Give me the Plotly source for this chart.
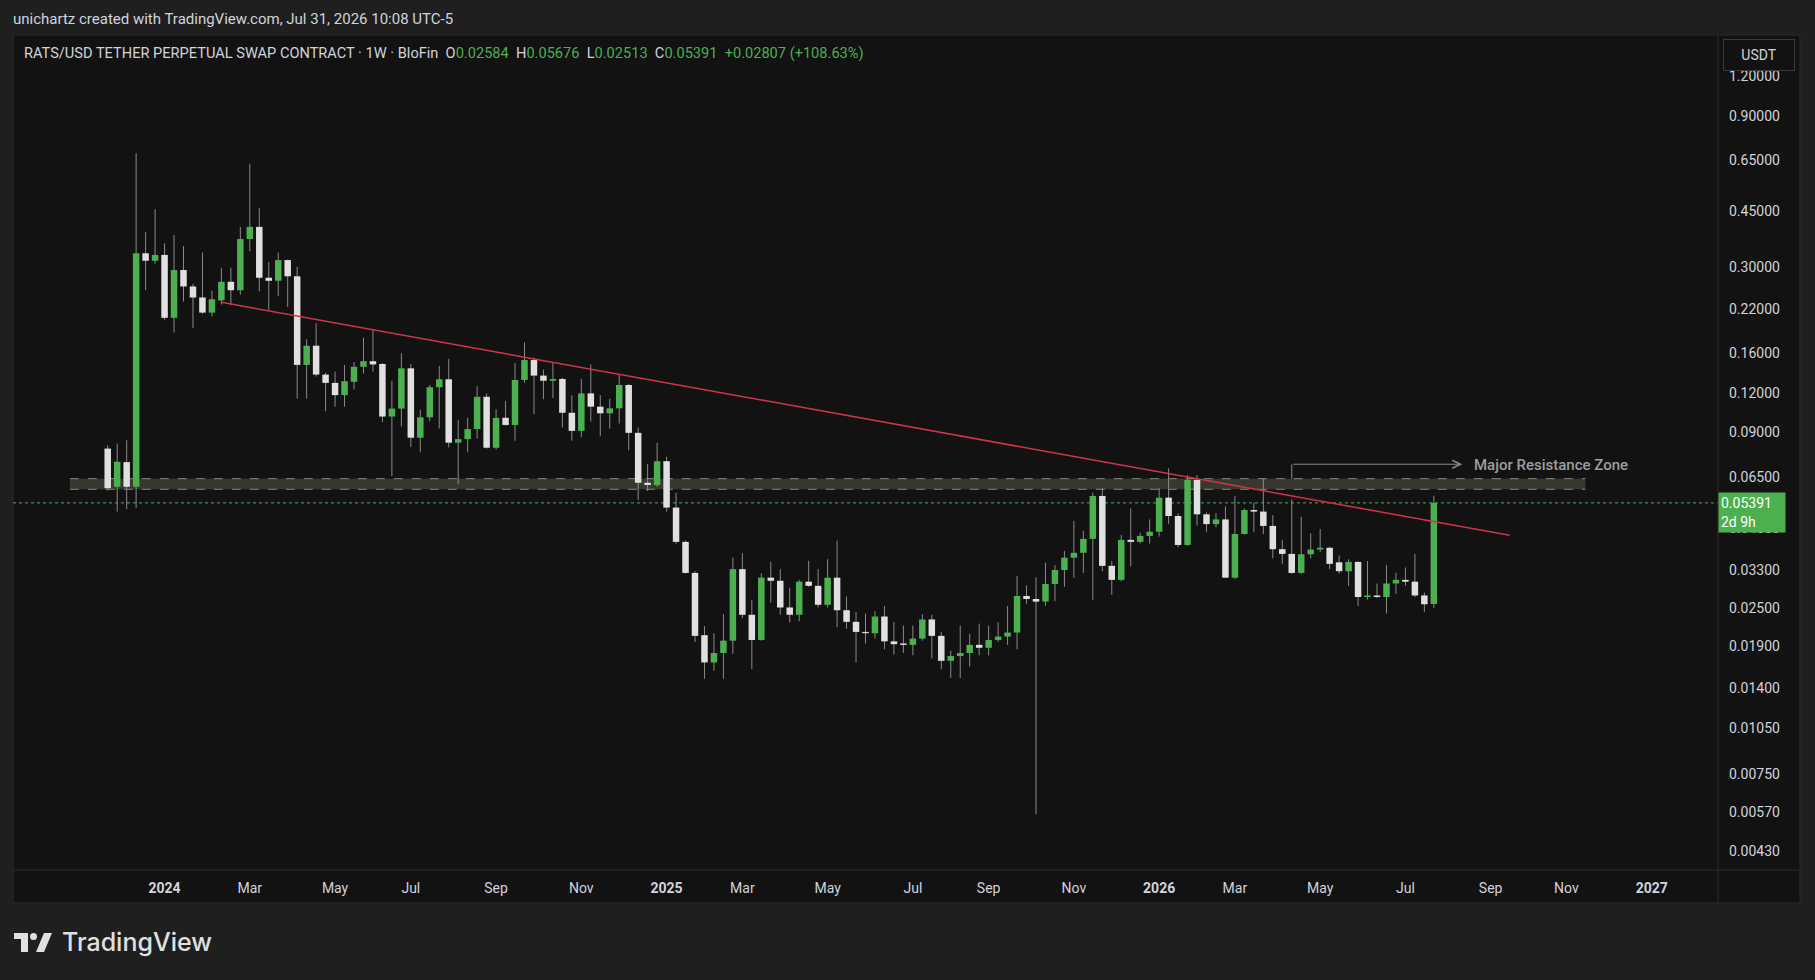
import numpy as np
import pandas as pd
import plotly.graph_objects as go

# weekly candles, RATS/USDT perpetual (BloFin)
start_week = '2023-11-20'
opens = [0.080, 0.0606, 0.0725, 0.0606, 0.331, 0.3135, 0.327, 0.207, 0.293, 0.260,
         0.240, 0.215, 0.235, 0.269, 0.253, 0.367, 0.401, 0.277, 0.271, 0.315,
         0.280, 0.147, 0.169, 0.137, 0.129, 0.118, 0.130, 0.145, 0.151, 0.148,
         0.101, 0.107, 0.1434, 0.0866, 0.1004, 0.125, 0.1324, 0.0835, 0.0857, 0.0922,
         0.1166, 0.0805, 0.1001, 0.095, 0.1317, 0.1523, 0.136, 0.131, 0.1327, 0.1038,
         0.091, 0.1195, 0.1085, 0.1034, 0.1072, 0.127, 0.0897, 0.0624, 0.0614, 0.073,
         0.0521, 0.0406, 0.0324, 0.0206, 0.0169, 0.0181, 0.0198, 0.0333, 0.0239, 0.0199,
         0.0313, 0.0306, 0.0252, 0.0239, 0.0304, 0.0295, 0.0257, 0.0313, 0.0247, 0.0227,
         0.0211, 0.0209, 0.0236, 0.0197, 0.0194, 0.0192, 0.0201, 0.0231, 0.0205, 0.0171,
         0.0177, 0.0181, 0.0192, 0.0188, 0.0199, 0.0204, 0.0210, 0.0274, 0.0268, 0.0263,
         0.0299, 0.0331, 0.0362, 0.0375, 0.0415, 0.0567, 0.0341, 0.0308, 0.0412, 0.0406,
         0.0424, 0.0437, 0.056, 0.049, 0.0397, 0.0637, 0.0496, 0.0462, 0.0478, 0.0313,
         0.043, 0.0512, 0.0506, 0.0456, 0.0385, 0.0372, 0.0324, 0.0371, 0.0384, 0.0389,
         0.035, 0.0328, 0.0351, 0.0272, 0.0275, 0.0272, 0.030, 0.0308, 0.0304, 0.0275,
         0.02584]
highs = [0.082, 0.083, 0.085, 0.685, 0.386, 0.456, 0.356, 0.378, 0.349, 0.265,
         0.333, 0.252, 0.298, 0.298, 0.401, 0.634, 0.459, 0.310, 0.333, 0.316,
         0.300, 0.177, 0.199, 0.139, 0.140, 0.147, 0.150, 0.179, 0.1905, 0.149,
         0.131, 0.160, 0.148, 0.106, 0.127, 0.146, 0.1535, 0.0984, 0.100, 0.126,
         0.1195, 0.1065, 0.113, 0.149, 0.173, 0.155, 0.142, 0.149, 0.134, 0.118,
         0.1327, 0.1476, 0.118, 0.115, 0.137, 0.128, 0.0933, 0.0714, 0.0835, 0.0754,
         0.058, 0.041, 0.0328, 0.022, 0.0209, 0.024, 0.0362, 0.0374, 0.0266, 0.0323,
         0.0351, 0.0333, 0.0291, 0.0308, 0.0354, 0.0333, 0.0358, 0.041, 0.0273, 0.0244,
         0.0241, 0.0245, 0.0255, 0.0227, 0.0221, 0.0221, 0.024, 0.0239, 0.0211, 0.0184,
         0.0221, 0.0208, 0.0224, 0.0221, 0.0226, 0.0255, 0.0317, 0.0296, 0.0314, 0.0349,
         0.0343, 0.038, 0.0473, 0.044, 0.0581, 0.060, 0.0353, 0.0427, 0.0518, 0.0434,
         0.0478, 0.060, 0.0693, 0.050, 0.066, 0.066, 0.0503, 0.050, 0.0525, 0.0567,
         0.0518, 0.054, 0.0645, 0.0493, 0.0412, 0.0553, 0.0487, 0.0432, 0.0446, 0.0392,
         0.0368, 0.0358, 0.0352, 0.0353, 0.030, 0.0343, 0.0324, 0.0337, 0.0372, 0.0281,
         0.05676]
lows = [0.059, 0.0506, 0.0515, 0.052, 0.253, 0.307, 0.204, 0.186, 0.233, 0.192,
        0.213, 0.209, 0.228, 0.227, 0.245, 0.336, 0.251, 0.219, 0.2425, 0.224,
        0.115, 0.115, 0.135, 0.105, 0.1085, 0.1085, 0.123, 0.138, 0.140, 0.097,
        0.0655, 0.094, 0.081, 0.078, 0.0975, 0.0926, 0.0807, 0.0618, 0.078, 0.086,
        0.080, 0.0795, 0.0945, 0.0847, 0.129, 0.1027, 0.1145, 0.1155, 0.0933, 0.0847,
        0.087, 0.0973, 0.0875, 0.0925, 0.096, 0.079, 0.055, 0.0588, 0.0605, 0.0506,
        0.040, 0.0322, 0.0196, 0.0150, 0.0159, 0.0150, 0.018, 0.0233, 0.0161, 0.0198,
        0.0261, 0.0239, 0.0226, 0.0228, 0.0293, 0.0252, 0.0252, 0.0218, 0.0216, 0.0169,
        0.0194, 0.0201, 0.0186, 0.0179, 0.0181, 0.0178, 0.0198, 0.0174, 0.0161, 0.0151,
        0.0151, 0.0164, 0.0178, 0.0178, 0.0196, 0.0192, 0.0186, 0.0259, 0.0056, 0.0255,
        0.0264, 0.0293, 0.0313, 0.0324, 0.0266, 0.0328, 0.0276, 0.0305, 0.034, 0.0401,
        0.0401, 0.0422, 0.0462, 0.0391, 0.0395, 0.0457, 0.0437, 0.0452, 0.0312, 0.031,
        0.0428, 0.0436, 0.0429, 0.036, 0.0346, 0.0322, 0.0322, 0.036, 0.0377, 0.0333,
        0.0322, 0.0295, 0.0255, 0.0267, 0.027, 0.0241, 0.0278, 0.0295, 0.0272, 0.0244,
        0.02513]
closes = [0.060, 0.0727, 0.0606, 0.331, 0.3135, 0.327, 0.207, 0.293, 0.260, 0.240,
          0.215, 0.237, 0.269, 0.253, 0.367, 0.401, 0.277, 0.271, 0.315, 0.280,
          0.147, 0.169, 0.137, 0.129, 0.118, 0.1306, 0.145, 0.151, 0.1475, 0.101,
          0.107, 0.1434, 0.0866, 0.1004, 0.125, 0.1324, 0.0835, 0.0857, 0.0922, 0.1166,
          0.0805, 0.100, 0.095, 0.1317, 0.1523, 0.136, 0.131, 0.1327, 0.1038, 0.091,
          0.1195, 0.1085, 0.1034, 0.1072, 0.127, 0.0897, 0.0624, 0.0614, 0.073, 0.0521,
          0.0406, 0.0324, 0.0205, 0.0169, 0.0181, 0.0198, 0.0333, 0.0239, 0.0199, 0.0313,
          0.0306, 0.0252, 0.0239, 0.0304, 0.0295, 0.0257, 0.0313, 0.0247, 0.0227, 0.0211,
          0.0209, 0.0236, 0.0197, 0.0193, 0.0192, 0.0201, 0.0231, 0.0205, 0.0171, 0.0177,
          0.0181, 0.0192, 0.0188, 0.0199, 0.0204, 0.0210, 0.0274, 0.0268, 0.0263, 0.0299,
          0.0331, 0.0362, 0.0375, 0.0415, 0.0567, 0.0341, 0.0308, 0.0412, 0.0406, 0.0424,
          0.0437, 0.056, 0.049, 0.0397, 0.0637, 0.0496, 0.0462, 0.0478, 0.0313, 0.043,
          0.0512, 0.0506, 0.0456, 0.0385, 0.0372, 0.0324, 0.0371, 0.0384, 0.0389, 0.0346,
          0.0328, 0.0351, 0.0272, 0.0275, 0.0272, 0.030, 0.0308, 0.0304, 0.0275, 0.0258,
          0.05391]

# drawings on the chart
zone_low, zone_high = 0.0595, 0.0643
zone_dates = ['2023-10-23', '2026-11-16']
trend_dates = ['2024-02-12', '2026-09-21']
trend_prices = [0.2317, 0.0426]
arrow_dates = ['2026-04-13', '2026-08-17']
arrow_price = 0.0714

price_ticks = [1.2, 0.9, 0.65, 0.45, 0.3, 0.22, 0.16, 0.12, 0.09, 0.065, 0.045,
               0.033, 0.025, 0.019, 0.014, 0.0105, 0.0075, 0.0057, 0.0043]
month_ticks = ['2024-01', '2024-03', '2024-05', '2024-07', '2024-09', '2024-11',
               '2025-01', '2025-03', '2025-05', '2025-07', '2025-09', '2025-11',
               '2026-01', '2026-03', '2026-05', '2026-07', '2026-09', '2026-11',
               '2027-01']

GREEN = '#4caf50'
WHITE = '#e0e0e0'
WICK = '#8a8a8a'
TEXT = '#d1d4dc'
X_RANGE = ['2023-09-11', '2027-02-22']

dates = pd.date_range(start_week, periods=len(closes), freq='7D')

# weekly bars sit on mondays, so month labels go on the first monday of the month
tick_vals = []
tick_text = []
for m in month_ticks:
    first = pd.Timestamp(m + '-01')
    tick_vals.append(first + pd.Timedelta(days=(7 - first.weekday()) % 7))
    tick_text.append(f'<b>{first.year}</b>' if first.month == 1 else first.strftime('%b'))


def segments(idx, lo, hi):
    xs, ys = [], []
    for i in idx:
        xs += [dates[i], dates[i], None]
        ys += [lo[i], hi[i], None]
    return xs, ys


def px(x):
    # screen pixel -> paper coordinate (plot area is x 13..1718, y 35..870)
    return (x - 13) / 1705


def py(y):
    return (870 - y) / 835


fig = go.Figure()

# resistance zone
fig.add_trace(go.Scatter(
    x=[zone_dates[0], zone_dates[1], zone_dates[1], zone_dates[0]],
    y=[zone_low, zone_low, zone_high, zone_high],
    fill='toself', fillcolor='#393830', mode='lines', line=dict(width=0),
    hoverinfo='skip', showlegend=False))
for level in (zone_low, zone_high):
    fig.add_trace(go.Scatter(x=zone_dates, y=[level, level], mode='lines',
                             line=dict(color='#85847a', width=1, dash='dash'),
                             hoverinfo='skip', showlegend=False))

# last price line
fig.add_trace(go.Scatter(x=X_RANGE, y=[closes[-1], closes[-1]],
                         mode='lines', line=dict(color=GREEN, width=1, dash='dot'),
                         hoverinfo='skip', showlegend=False))

# wicks
all_idx = range(len(closes))
wx, wy = segments(all_idx, lows, highs)
fig.add_trace(go.Scatter(x=wx, y=wy, mode='lines', line=dict(color=WICK, width=1),
                         hoverinfo='skip', showlegend=False))

# bodies
body_lo = [min(o, c) for o, c in zip(opens, closes)]
body_hi = [max(o, c) for o, c in zip(opens, closes)]
up = [i for i in all_idx if closes[i] >= opens[i]]
down = [i for i in all_idx if closes[i] < opens[i]]
for idx, col in ((up, GREEN), (down, WHITE)):
    bx, by = segments(idx, body_lo, body_hi)
    fig.add_trace(go.Scatter(x=bx, y=by, mode='lines', line=dict(color=col, width=6.5),
                             hoverinfo='skip', showlegend=False))

# descending trendline
fig.add_trace(go.Scatter(x=trend_dates, y=trend_prices, mode='lines',
                         line=dict(color='#d2334c', width=1.5),
                         hoverinfo='skip', showlegend=False))

# arrow to the zone label
fig.add_trace(go.Scatter(x=[arrow_dates[0], arrow_dates[0]], y=[zone_high, arrow_price],
                         mode='lines', line=dict(color='#8a8a8a', width=1),
                         hoverinfo='skip', showlegend=False))
fig.add_annotation(x=arrow_dates[1], y=np.log10(arrow_price), ax=arrow_dates[0],
                   ay=np.log10(arrow_price), axref='x', ayref='y', xref='x', yref='y',
                   text='', showarrow=True, arrowhead=5, arrowsize=1.6, arrowwidth=1,
                   arrowcolor='#8a8a8a')
fig.add_annotation(x=px(1472), y=np.log10(arrow_price), xref='paper', yref='y',
                   text='Major Resistance Zone', showarrow=False, xanchor='left',
                   yshift=-1, font=dict(size=15, color='#9e9e9e', weight=500))

# chart pane, separators
fig.add_shape(type='rect', xref='paper', yref='paper', x0=px(13), x1=px(1800),
              y0=py(903), y1=py(35), fillcolor='#121212', line=dict(color='#2a2a2a', width=1),
              layer='below')
fig.add_shape(type='line', xref='paper', yref='paper', x0=1, x1=1, y0=py(903), y1=1,
              line=dict(color='#2c2c2c', width=1))
fig.add_shape(type='line', xref='paper', yref='paper', x0=0, x1=px(1800), y0=0, y1=0,
              line=dict(color='#2c2c2c', width=1))

# header texts
g = lambda s: f'<span style="color:{GREEN}">{s}</span>'
sp = '\u00a0\u00a0'
header = ('RATS/USD TETHER PERPETUAL SWAP CONTRACT · 1W · BloFin' + sp +
          'O' + g('0.02584') + sp + 'H' + g('0.05676') + sp + 'L' + g('0.02513') + sp +
          'C' + g('0.05391') + sp + g('+0.02807 (+108.63%)'))
fig.add_annotation(x=px(22), y=py(53), xref='paper', yref='paper', text=header,
                   showarrow=False, xanchor='left', yanchor='middle',
                   font=dict(size=14.6, color=TEXT))
fig.add_annotation(x=px(11), y=py(19), xref='paper', yref='paper',
                   text='unichartz created with TradingView.com, Jul 31, 2026 10:08 UTC-5',
                   showarrow=False, xanchor='left', yanchor='middle',
                   font=dict(size=15, color=TEXT))

# currency box and last price label
fig.add_annotation(x=px(1759), y=py(55), xref='paper', yref='paper', text='USDT',
                   showarrow=False, xanchor='center', yanchor='middle', width=66,
                   height=26, bgcolor='#121212', bordercolor='#3a3a3a', borderwidth=1,
                   borderpad=2, font=dict(size=14, color=TEXT))
fig.add_annotation(x=1.0, y=np.log10(closes[-1]), xref='paper', yref='y',
                   text='0.05391<br>2d 9h', showarrow=False, xanchor='left',
                   yanchor='top', yshift=11, align='left', width=62, height=35,
                   bgcolor=GREEN, borderpad=2, font=dict(size=14, color='#ffffff'))

# TradingView logo
fig.add_shape(type='rect', xref='paper', yref='paper', x0=px(14), x1=px(28),
              y0=py(939), y1=py(933), fillcolor='#e0e0e0', line_width=0)
fig.add_shape(type='rect', xref='paper', yref='paper', x0=px(21), x1=px(28),
              y0=py(952), y1=py(933), fillcolor='#e0e0e0', line_width=0)
fig.add_shape(type='circle', xref='paper', yref='paper', x0=px(30), x1=px(37),
              y0=py(940), y1=py(933), fillcolor='#e0e0e0', line_width=0)
fig.add_shape(type='path', xref='paper', yref='paper',
              path=f'M {px(36)} {py(952)} L {px(44)} {py(933)} L {px(52)} {py(933)} '
                   f'L {px(44)} {py(952)} Z',
              fillcolor='#e0e0e0', line_width=0)
fig.add_annotation(x=px(60), y=py(942), xref='paper', yref='paper', text='TradingView',
                   showarrow=False, xanchor='left', yanchor='middle',
                   font=dict(size=25, color='#e0e0e0', family='Inter', weight=500))

fig.update_layout(
    width=1815, height=980,
    margin=dict(l=13, r=97, t=35, b=110),
    paper_bgcolor='#1f1f1f',
    plot_bgcolor='#121212',
    font=dict(family='Roboto, "DejaVu Sans", sans-serif', color=TEXT, size=14),
    showlegend=False,
    xaxis=dict(type='date', range=X_RANGE, showgrid=False,
               zeroline=False, showline=False, tickvals=tick_vals, ticktext=tick_text,
               ticks='', ticklabelstandoff=8, tickfont=dict(size=14, color=TEXT),
               fixedrange=True),
    yaxis=dict(type='log', range=[np.log10(0.003737), np.log10(1.618)], side='right',
               showgrid=False, zeroline=False, showline=False, tickvals=price_ticks,
               ticktext=[f'{v:.5f}' for v in price_ticks], ticks='',
               ticklabelstandoff=10, tickfont=dict(size=14, color=TEXT),
               fixedrange=True),
)

fig.write_html('out.html', config={'displayModeBar': False},
               post_script="document.body.style.margin='0';"
                           "document.body.style.background='#1f1f1f';")
